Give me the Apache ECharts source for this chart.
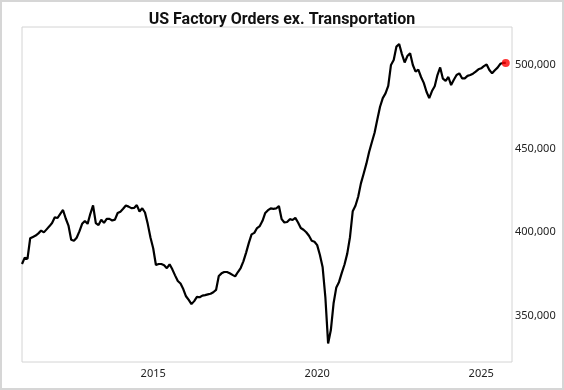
<!DOCTYPE html>
<html>
<head>
<meta charset="utf-8">
<script src="https://cdn.jsdelivr.net/npm/echarts@6/dist/echarts.min.js"></script>
<style>
  html, body { margin: 0; padding: 0; background: #fff; }
  #chart { width: 564px; height: 390px; box-sizing: border-box; border: 2px solid #d6d6d6; }
</style>
</head>
<body>
<div id="chart"></div>
<script>
// Monthly series, Jan 2011 .. Oct 2025
const START_YEAR = 2011;
const START_MONTH = 1;
const values = [
  381000, 384800, 384000, 396400, 397200, 398000, 399300, 401000, 399900, 401700, 403500, 405500,
  408900, 408500, 411000, 413300, 408200, 404000, 395500, 394900, 396700, 400500, 405000, 406700,
  405000, 411000, 416000, 405500, 404300, 407500, 405600, 408000, 408000, 407000, 407500, 411500,
  412300, 414000, 416000, 415300, 414400, 414500, 416200, 412400, 414300, 411800, 405000, 396800,
  390400, 380400, 381000, 381000, 380300, 378500, 380800, 377800, 374200, 370800, 369300, 366000,
  361700, 359500, 357000, 358800, 361300, 361100, 362100, 362400, 362800, 363200, 364100, 365500,
  373800, 375400, 376200, 376200, 375500, 374500, 373600, 376200, 378600, 382600, 387800, 393600,
  398700, 399600, 402500, 403700, 406800, 411500, 413200, 414200, 414000, 414200, 415700, 407800,
  405800, 406100, 407800, 407300, 408600, 405800, 402500, 401500, 400000, 397900, 394900, 394300,
  392300, 386400, 379000, 361000, 333500, 341500, 357500, 367000, 370300, 375700, 380700, 387200,
  397000, 412500, 415800, 421200, 429200, 435000, 441000, 448000, 453800, 459500, 467400, 475000,
  480200, 483000, 487500, 500000, 503000, 511000, 512500, 506500, 501500, 505300, 507000, 500000,
  496000, 497200, 492800, 489300, 484000, 480200, 484400, 487300, 494000, 498500, 491800, 490500,
  492800, 488000, 491200, 494000, 495000, 492000, 492000, 493500, 494000, 494800, 496000, 497400,
  498000, 499300, 500300, 497000, 495000, 496800, 498400, 500700, 501200, 501200
];
const yTicks = [350000, 400000, 450000, 500000];
const xTickYears = [2015, 2020, 2025];

const seriesData = values.map((v, i) => [START_YEAR + (START_MONTH - 1 + i) / 12, v]);
const last = seriesData[seriesData.length - 1];

const chart = echarts.init(document.getElementById('chart'), null, { renderer: 'canvas' });
chart.setOption({
  animation: false,
  backgroundColor: '#ffffff',
  title: {
    text: 'US Factory Orders ex. Transportation',
    left: 'center',
    top: 5,
    textStyle: { fontFamily: 'Roboto', fontSize: 16, fontWeight: 'bold', color: '#111' }
  },
  grid: {
    left: 20, right: 50, top: 25, bottom: 26,
    show: true, borderColor: '#d4d4d4', borderWidth: 1
  },
  xAxis: {
    type: 'value',
    min: 2011,
    max: 2025.94,
    interval: 1,
    axisLine: { show: false },
    axisTick: { show: false },
    splitLine: { show: false },
    axisLabel: {
      fontFamily: 'Noto Sans', fontSize: 11, color: '#222', margin: 6,
      showMinLabel: false, showMaxLabel: false,
      formatter: v => xTickYears.indexOf(Math.round(v)) >= 0 && Math.abs(v - Math.round(v)) < 1e-6 ? String(Math.round(v)) : ''
    }
  },
  yAxis: {
    type: 'value',
    position: 'right',
    min: 322400,
    max: 522700,
    splitNumber: 4,
    axisLine: { show: false },
    axisTick: { show: false },
    splitLine: { show: false },
    axisLabel: {
      fontFamily: 'Noto Sans', fontSize: 11, color: '#222', margin: 3,
      showMinLabel: false, showMaxLabel: false,
      formatter: v => yTicks.indexOf(v) >= 0 ? v.toLocaleString('en-US') : ''
    }
  },
  series: [
    {
      type: 'line',
      data: seriesData,
      showSymbol: false,
      lineStyle: { color: '#000', width: 2.2 },
      z: 2
    },
    {
      type: 'scatter',
      data: [last],
      symbolSize: 8,
      itemStyle: { color: '#ff0000' },
      z: 3
    }
  ]
});
</script>
</body>
</html>
